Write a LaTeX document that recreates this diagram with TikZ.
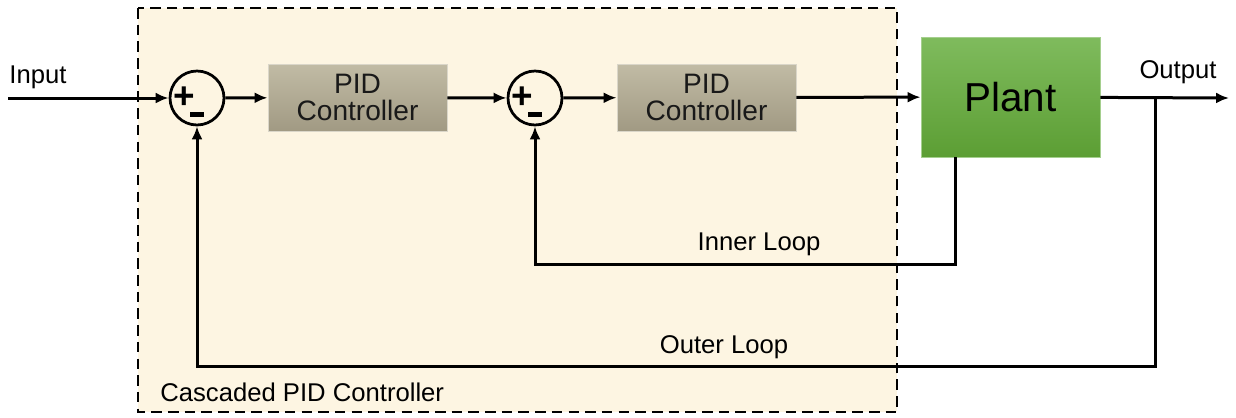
\documentclass[tikz,border=0pt]{standalone}
\usepackage{fontspec}
\setmainfont{Liberation Sans}
\usetikzlibrary{arrows.meta,positioning}
\definecolor{cream}{HTML}{FDF5E2}
\definecolor{pidtop}{HTML}{C1BBA5}
\definecolor{pidbot}{HTML}{A19A83}
\definecolor{planttop}{HTML}{7FBB5D}
\definecolor{plantbot}{HTML}{5C9E34}
\begin{document}
\begin{tikzpicture}[x=0.02cm, y=-0.02cm,
        pidbox/.style={rectangle, minimum width=3.58cm, minimum height=1.34cm, align=center,
            top color=pidtop, bottom color=pidbot, draw=pidtop!60!white, line width=0.5pt,
            font=\fontsize{16}{15.5}\selectfont, text=black!90},
        plantbox/.style={rectangle, minimum width=3.58cm, minimum height=2.4cm,
            top color=planttop, bottom color=plantbot, draw=planttop!70!white, line width=0.5pt,
            font=\fontsize{23}{26}\selectfont},
        sumnode/.style={circle, draw, line width=0.055cm, minimum size=1.08cm, inner sep=0pt},
        sign/.style={font=\fontsize{21}{21}\bfseries\selectfont, inner sep=0pt},
        label/.style={font=\fontsize{14.6}{16}\selectfont, inner sep=0pt},
        conn/.style={-{Latex[length=0.26cm, width=0.22cm]}, line width=0.06cm}
    ]
        \useasboundingbox (0,0) rectangle (1236,417);
        % cascaded controller frame
        \draw[dash pattern=on 6pt off 3.5pt, line width=0.04cm, fill=cream] (138,8) rectangle (897,412);
        \node[label, anchor=west] (cascade) at (160,392) {Cascaded PID Controller};

        \node[sumnode] (sum1) at (197,98) {};
        \node[pidbox] (pid1) at (357.5,97.5) {PID\\Controller};
        \node[sumnode] (sum2) at (535,98) {};
        \node[pidbox] (pid2) at (706.5,97.5) {PID\\Controller};
        \node[plantbox] (plant) at (1010.5,97) {Plant};

        \node[sign] (plus1) at (184,98) {+};
        \node[sign] (minus1) at (197,114) {\rule{0.28cm}{0.1cm}};
        \node[sign] (plus2) at (522,98) {+};
        \node[sign] (minus2) at (535,114) {\rule{0.28cm}{0.1cm}};

        \node[label] (input) at (38,77) {Input};
        \node[label] (output) at (1178,72) {Output};
        \node[label] (inner) at (759,244) {Inner Loop};
        \node[label] (outer) at (724,347) {Outer Loop};

        \coordinate (in) at (8,98);
        \coordinate (out) at (1229,98);
        \coordinate (branch) at (1155,98);
        \coordinate (innerc) at (955,264);
        \coordinate (outerc) at (1155,366);

        \draw[conn] (in) -- (sum1);
        \draw[conn] (sum1) -- (pid1);
        \draw[conn] (pid1) -- (sum2);
        \draw[conn] (sum2) -- (pid2);
        \draw[conn] (pid2) -- (plant);
        \draw[conn] (plant) -- (out);
        \draw[conn] (plant.south -| innerc) -- (innerc) -| (sum2.south);
        \draw[conn] (branch) -- (outerc) -| (sum1.south);
    \end{tikzpicture}
\end{document}
